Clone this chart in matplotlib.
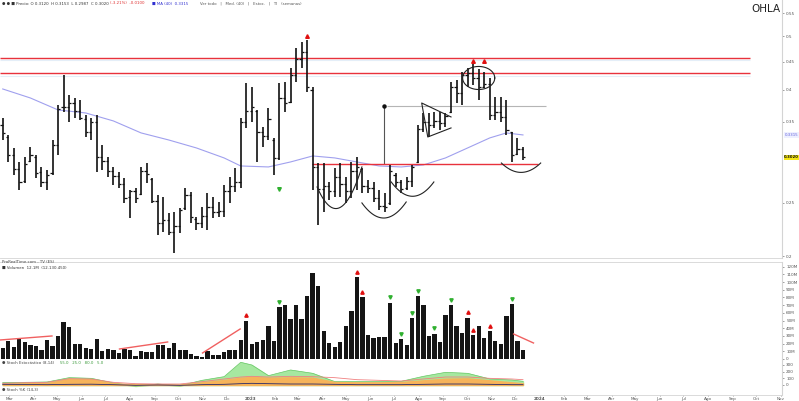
import numpy as np
import pandas as pd
import matplotlib
matplotlib.use("Agg")
from matplotlib import pyplot as plt
from matplotlib.ticker import FixedLocator, NullLocator, FixedFormatter
from matplotlib.transforms import blended_transform_factory

# weekly bars, OHLA
start = pd.Timestamp("2022-02-21")
highs = [0.3558, 0.3315, 0.3140, 0.2962, 0.3025, 0.3153, 0.3050, 0.2901, 0.2865, 0.3246,
         0.3757, 0.4257, 0.3916, 0.3867, 0.3835, 0.3603, 0.3558, 0.3603, 0.3180, 0.3025,
         0.2901, 0.2842, 0.2771, 0.2636, 0.2659, 0.2901, 0.2950, 0.2771, 0.2582, 0.2560,
         0.2395, 0.2405, 0.2446, 0.2659, 0.2614, 0.2356, 0.2456, 0.2603, 0.2560, 0.2507,
         0.2692, 0.2783, 0.2889, 0.3558, 0.4115, 0.4049, 0.3679, 0.3427, 0.3710, 0.3274,
         0.4115, 0.4132, 0.4387, 0.4761, 0.4883, 0.4925, 0.4049, 0.2950, 0.2950, 0.2726,
         0.2889, 0.2950, 0.2783, 0.2962, 0.3025, 0.2889, 0.2748, 0.2726, 0.2636, 0.2603,
         0.2925, 0.2830, 0.2748, 0.2783, 0.2925, 0.3455, 0.3633, 0.3633, 0.3649, 0.3649,
         0.3633, 0.4132, 0.4168, 0.4315, 0.4387, 0.4461, 0.4371, 0.4315, 0.4203, 0.3883,
         0.3883, 0.3835, 0.3357, 0.3274, 0.3153]
lows = [0.3246, 0.2962, 0.2806, 0.2636, 0.2714, 0.2962, 0.2771, 0.2669, 0.2636, 0.2806,
        0.3050, 0.3649, 0.3500, 0.3558, 0.3528, 0.3287, 0.3246, 0.2842, 0.2865, 0.2783,
        0.2692, 0.2659, 0.2497, 0.2346, 0.2497, 0.2582, 0.2714, 0.2497, 0.2186, 0.2213,
        0.2186, 0.2027, 0.2204, 0.2425, 0.2297, 0.2231, 0.2250, 0.2231, 0.2346, 0.2356,
        0.2356, 0.2497, 0.2614, 0.2659, 0.3413, 0.3500, 0.2962, 0.3153, 0.3246, 0.2806,
        0.2987, 0.3649, 0.3787, 0.4132, 0.4387, 0.3965, 0.2636, 0.2278, 0.2405, 0.2528,
        0.2560, 0.2560, 0.2497, 0.2549, 0.2636, 0.2603, 0.2603, 0.2507, 0.2425, 0.2405,
        0.2477, 0.2669, 0.2603, 0.2636, 0.2669, 0.2950, 0.3357, 0.3287, 0.3413, 0.3385,
        0.3427, 0.3633, 0.3787, 0.3757, 0.4049, 0.4082, 0.3835, 0.4032, 0.3528, 0.3528,
        0.3500, 0.3315, 0.2962, 0.3050, 0.2987]
opens = [0.345, 0.328, 0.305, 0.288, 0.274, 0.298, 0.303, 0.284, 0.272, 0.283,
         0.318, 0.372, 0.372, 0.378, 0.366, 0.355, 0.335, 0.350, 0.303, 0.298,
         0.285, 0.279, 0.270, 0.256, 0.262, 0.259, 0.285, 0.276, 0.252, 0.230,
         0.233, 0.2215, 0.227, 0.244, 0.258, 0.234, 0.230, 0.236, 0.245, 0.240,
         0.241, 0.262, 0.268, 0.272, 0.350, 0.366, 0.366, 0.335, 0.330, 0.325,
         0.301, 0.387, 0.380, 0.425, 0.455, 0.468, 0.400, 0.290, 0.265, 0.268,
         0.262, 0.278, 0.270, 0.262, 0.285, 0.288, 0.268, 0.266, 0.255, 0.247,
         0.250, 0.280, 0.272, 0.266, 0.274, 0.296, 0.340, 0.350, 0.345, 0.352,
         0.348, 0.364, 0.405, 0.395, 0.425, 0.430, 0.420, 0.405, 0.410, 0.360,
         0.365, 0.357, 0.335, 0.306, 0.312]
closes = [0.334, 0.305, 0.288, 0.272, 0.294, 0.305, 0.283, 0.272, 0.281, 0.318,
          0.370, 0.372, 0.378, 0.366, 0.356, 0.335, 0.350, 0.303, 0.298, 0.285,
          0.279, 0.270, 0.255, 0.262, 0.255, 0.285, 0.282, 0.252, 0.230, 0.233,
          0.2215, 0.227, 0.242, 0.258, 0.235, 0.230, 0.236, 0.245, 0.240, 0.241,
          0.262, 0.268, 0.272, 0.350, 0.366, 0.372, 0.335, 0.330, 0.355, 0.301,
          0.387, 0.378, 0.425, 0.455, 0.468, 0.405, 0.290, 0.265, 0.268, 0.262,
          0.278, 0.270, 0.262, 0.285, 0.290, 0.268, 0.266, 0.255, 0.247, 0.246,
          0.285, 0.272, 0.265, 0.274, 0.290, 0.340, 0.350, 0.345, 0.352, 0.348,
          0.358, 0.405, 0.395, 0.425, 0.430, 0.420, 0.405, 0.410, 0.360, 0.365,
          0.357, 0.338, 0.305, 0.312, 0.302]
volumes = [13.9, 23.8, 16.0, 26.0, 21.6, 18.2, 17.3, 11.7, 24.7, 16.9,
           29.9, 47.6, 42.0, 19.9, 19.5, 13.9, 12.6, 25.5, 10.4, 12.6,
           11.7, 8.2, 13.0, 11.7, 4.3, 10.8, 9.1, 9.1, 17.7, 17.7,
           14.7, 21.2, 11.7, 11.7, 6.1, 4.3, 3.0, 10.0, 5.2, 5.2,
           9.5, 11.7, 12.1, 24.2, 49.8, 19.9, 22.5, 25.1, 42.9, 23.4,
           67.1, 69.7, 51.9, 69.7, 51.5, 81.8, 112.1, 95.2, 35.9, 20.3,
           16.0, 22.5, 42.9, 62.3, 106.1, 80.5, 31.2, 26.8, 29.0, 29.0,
           73.2, 20.3, 26.0, 18.2, 52.8, 81.4, 70.1, 29.9, 32.9, 22.5,
           57.1, 70.1, 43.3, 34.2, 53.7, 31.2, 42.9, 26.8, 36.4, 23.4,
           19.0, 55.8, 71.0, 23.8, 12.1]

# moving average read at some bars
ma_idx = [0, 5, 10, 15, 20, 25, 30, 35, 40, 43, 48, 52, 56, 60, 64, 68, 72, 76, 80, 84, 88, 91, 94]
ma_val = [0.4015, 0.3867, 0.3679, 0.3633, 0.3514, 0.3343, 0.3246, 0.3140, 0.3012, 0.2913,
          0.2901, 0.2962, 0.3037, 0.3012, 0.2962, 0.2913, 0.2901, 0.2925, 0.3012, 0.3140,
          0.3274, 0.3343, 0.3315]

# oscillator panel, read at some bars
osc_idx = [0, 4, 8, 12, 16, 20, 24, 28, 32, 36, 40, 43, 45, 48, 52, 56, 60, 64, 68, 72, 76, 80, 84, 88, 92, 94]
osc_green = [35, 40, 45, 110, 100, 30, -15, 15, -10, 70, 125, 340, 300, 140, 225, 175, 50, 50, 50, 55, 130, 190, 175, 90, 75, 55]
osc_orange = [20, 25, 30, 90, 85, 25, 10, 10, 5, 40, 75, 110, 120, 110, 115, 110, 45, 40, 40, 45, 70, 95, 100, 70, 40, 25]
osc_red = [25, 35, 40, 95, 90, 40, 20, 15, 15, 50, 90, 120, 130, 120, 130, 125, 110, 80, 70, 60, 90, 120, 120, 100, 90, 80]
osc_navy = [10, 8, 5, 10, 12, 5, -5, 0, -5, 5, 10, 20, 25, 20, 15, 15, 10, 5, 5, 5, 10, 15, 15, 10, 5, 5]

# levels and drawings
resist_hi = 0.4574
resist_lo = 0.4286
support = 0.2937
target = 0.3733
cups = [[(56.8, 0.2669), (61.1, 0.2455), (64.9, 0.2901)],
        [(64.9, 0.2497), (68.5, 0.2346), (72.9, 0.2507)],
        [(70.2, 0.2725), (72.9, 0.2581), (77.9, 0.2725)],
        [(90.1, 0.2949), (92.9, 0.2841), (97.2, 0.2949)]]
pennant = [(81.0, 0.3573), (75.7, 0.3787), (76.8, 0.3287), (81.0, 0.3413)]
red_up_bars = [55, 85, 87]
red_up_price = [0.5007, 0.4512, 0.4512]
green_bar = [50]
green_price = [0.2647]
vol_red = [44, 64, 65, 84, 85, 88]
vol_green = [50, 70, 72, 74, 75, 78, 81, 92]
vol_lines = [[(-0.5, 24.7), (8.9, 29.9)], [(21.1, 13.0), (29.8, 22.1)],
             [(36.1, 7.8), (42.9, 39.0)], [(92.3, 32.5), (95.9, 20.8)]]

price_ticks = [0.2, 0.25, 0.35, 0.4, 0.45, 0.5, 0.55]
meses = ["Ene", "Feb", "Mar", "Abr", "May", "Jun", "Jul", "Ago", "Sep", "Oct", "Nov", "Dic"]

n = len(highs)
x = np.arange(n)
months = pd.date_range("2022-03-01", "2024-11-01", freq="MS")
mpos = [(m - start).days / 7 for m in months]
mlab = [str(m.year) if m.month == 1 else meses[m.month - 1] for m in months]

fig = plt.figure(figsize=(7.99, 4.01), dpi=100)
W = 782 / 799
ax_p = fig.add_axes([0, 143 / 401, W, 258 / 401])
ax_v = fig.add_axes([0, 41 / 401, W, 98 / 401])
ax_o = fig.add_axes([0, 13 / 401, W, 28 / 401])
ax_s = fig.add_axes([0, 6 / 401, W, 7 / 401])

grey = "#d4d4d4"
for ax in (ax_p, ax_v, ax_o, ax_s):
    ax.set_xlim(-0.49, 140.8)
    ax.spines["left"].set_visible(False)
    ax.spines["top"].set_visible(False)
    ax.spines["right"].set_color(grey)
    ax.spines["bottom"].set_color(grey)
    ax.spines["right"].set_linewidth(0.8)
    ax.spines["bottom"].set_linewidth(0.6)
    ax.yaxis.tick_right()
    ax.tick_params(axis="y", labelsize=3, colors="#555", length=1.5, width=0.4, pad=1.5)
    ax.tick_params(axis="x", length=0, labelbottom=False)
    ax.set_xticks([])
ax_v.spines["top"].set_visible(True)
ax_v.spines["top"].set_color(grey)
ax_v.spines["top"].set_linewidth(0.6)

# price panel
ax_p.set_yscale("log")
ax_p.set_ylim(0.1985, 0.5817)
ax_p.yaxis.set_major_locator(FixedLocator(price_ticks))
ax_p.yaxis.set_minor_locator(NullLocator())
ax_p.yaxis.set_major_formatter(FixedFormatter([f"{t:g}" for t in price_ticks]))

xr = ax_p.get_xlim()
ax_p.hlines([resist_hi, resist_lo], xr[0], 135.0, color="#e8323c", lw=1.0, zorder=3)
ax_p.hlines([resist_hi * 0.99, resist_lo * 0.99], xr[0], 135.0, color="#e4eef8", lw=0.8, zorder=2)
ax_p.hlines(support, 55.9, 96.8, color="#e8323c", lw=1.0, zorder=3)
ax_p.hlines(target, 69.4, 98.1, color="#b5b5b5", lw=0.8, zorder=2)
ax_p.vlines(68.9, support, target, color="#555", lw=0.8, zorder=2)
ax_p.plot([68.9], [target], "o", color="#111", ms=2.2, zorder=4)

ax_p.plot(ma_idx, ma_val, color="#a0a0ee", lw=0.8, zorder=2)

ax_p.vlines(x, lows, highs, color="#111", lw=1.2, zorder=4)
ax_p.hlines(opens, x - 0.4, x, color="#111", lw=0.9, zorder=4)
ax_p.hlines(closes, x, x + 0.4, color="#111", lw=0.9, zorder=4)

for cup in cups:
    cx = [p[0] for p in cup]
    cy = np.log([p[1] for p in cup])
    coef = np.polyfit(cx, cy, 2)
    t = np.linspace(cx[0], cx[-1], 60)
    ax_p.plot(t, np.exp(np.polyval(coef, t)), color="#222", lw=0.8, zorder=5)

ang = np.linspace(0, 2 * np.pi, 100)
ax_p.plot(86.0 + 2.9 * np.cos(ang), 0.4203 * np.exp(0.048 * np.sin(ang)), color="#222", lw=0.8, zorder=5)
ax_p.plot([p[0] for p in pennant], [p[1] for p in pennant], color="#222", lw=0.8, zorder=5)

ax_p.plot(red_up_bars, red_up_price, "^", color="#e01010", ms=2.6, zorder=6)
ax_p.plot(green_bar, green_price, "v", color="#30b030", ms=2.6, zorder=6)

tr = blended_transform_factory(ax_p.transAxes, ax_p.transData)
ax_p.text(1.003, ma_val[-1], f"{ma_val[-1]:.4f}", transform=tr, fontsize=2.8, color="#6060dd",
          va="center", ha="left", bbox=dict(boxstyle="square,pad=0.15", fc="#eef0ff", ec="none"))
ax_p.text(1.003, closes[-1], f"{closes[-1]:.4f}", transform=tr, fontsize=2.8, color="#111",
          fontweight="bold", va="center", ha="left",
          bbox=dict(boxstyle="square,pad=0.15", fc="#f5e617", ec="none"))

# volume panel
ax_v.bar(x, volumes, width=0.78, color="#151515", zorder=3)
ax_v.set_ylim(-1.3, 126)
vt = list(range(0, 121, 10))
ax_v.yaxis.set_major_locator(FixedLocator(vt))
ax_v.yaxis.set_major_formatter(FixedFormatter([f"{v}M" if v else "0" for v in vt]))
ax_v.plot(vol_red, [volumes[i] + 7 for i in vol_red], "^", color="#e01010", ms=2.4, zorder=4)
ax_v.plot(vol_green, [volumes[i] + 7 for i in vol_green], "v", color="#30b030", ms=2.4, zorder=4)
for seg in vol_lines:
    ax_v.plot([seg[0][0], seg[1][0]], [seg[0][1], seg[1][1]], color="#f06060", lw=1.0, zorder=4)

# oscillator panel
ax_o.set_ylim(-45, 375)
ax_o.yaxis.set_major_locator(FixedLocator([0, 100, 200, 300]))
ax_o.yaxis.set_major_formatter(FixedFormatter(["0", "100", "200", "300"]))
ax_o.fill_between(osc_idx, 0, osc_green, color="#a6e8a0", zorder=2)
ax_o.plot(osc_idx, osc_green, color="#6cc86a", lw=0.5, zorder=3)
ax_o.fill_between(osc_idx, 0, osc_orange, color="#f6b35a", zorder=3)
ax_o.plot(osc_idx, osc_red, color="#f08080", lw=0.6, zorder=4)
ax_o.plot(osc_idx, osc_navy, color="#2a2a6a", lw=0.6, zorder=4)

# bottom axis
ax_s.set_ylim(0, 1)
ax_s.set_yticks([])
ax_s.set_xticks(mpos)
ax_s.set_xticklabels(mlab)
ax_s.tick_params(axis="x", labelbottom=True, labelsize=3, colors="#555", length=1, width=0.4, pad=0.6)
for lab in ax_s.get_xticklabels():
    if lab.get_text().isdigit():
        lab.set_fontweight("bold")

# texts
fig.text(766 / 799, 1 - 9 / 401, "OHLA", fontsize=7.5, color="#222", ha="center", va="center")
fig.text(0.003, 1 - 3.5 / 401, "\u25cf \u25cf \u25a0 Precio: O 0.3120  H 0.3153  L 0.2987  C 0.3020",
         fontsize=2.8, color="#333", va="center")
fig.text(0.138, 1 - 3.5 / 401, "(-3.21%)  -0.0100", fontsize=2.8, color="#e03030", va="center")
fig.text(0.19, 1 - 3.5 / 401, "\u25a0 MA (40)  0.3315", fontsize=2.8, color="#3030d0", va="center")
fig.text(0.25, 1 - 3.5 / 401, "Ver todo   |   Med. (40)   |   Estoc.   |   Tl   (semanas)",
         fontsize=2.8, color="#555", va="center")
fig.text(0.003, 1 - 262 / 401, "ProRealTime.com - TV (ES)", fontsize=2.8, color="#444", va="center")
fig.text(0.003, 1 - 268 / 401, "\u25a0 Volumen  12.1M  (12.130.450)", fontsize=2.8, color="#333", va="center")
fig.text(0.003, 1 - 363 / 401, "\u25cf Stoch Estoc\u00e1stico (8,14)", fontsize=2.8, color="#444", va="center")
fig.text(0.075, 1 - 363 / 401, "55.0   25.0   80.0   5.0", fontsize=2.8, color="#3a9a3a", va="center")
fig.text(0.003, 1 - 390 / 401, "\u25cf Stoch %K (14,3)", fontsize=2.8, color="#444", va="center")

fig.savefig("out.png", dpi=100)
